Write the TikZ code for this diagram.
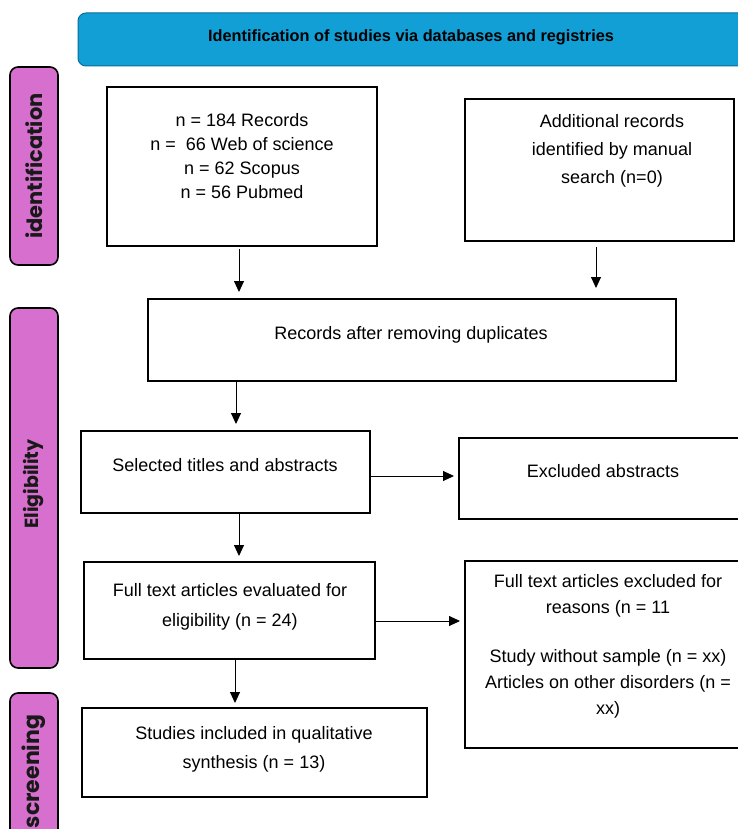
\documentclass[tikz,border=0pt]{standalone}
\usepackage{fontspec}
\setmainfont{Liberation Sans}
\newfontfamily\tabfont{Poppins}
\usetikzlibrary{arrows.meta}
\definecolor{hdrblue}{HTML}{129FD6}
\definecolor{hdredge}{HTML}{0B6E99}
\definecolor{tabpink}{HTML}{D76FCF}
\begin{document}
\begin{tikzpicture}[x=1pt,y=-1pt,
 box/.style={draw=black, line width=1.8pt, anchor=north west, inner sep=0pt, outer sep=0pt},
 tabbox/.style={draw=black, line width=1.6pt, fill=tabpink, rounded corners=8pt, anchor=north west, inner sep=0pt, outer sep=0pt, minimum width=48},
 txt/.style={anchor=north, inner sep=0pt, align=center, font=\fontsize{18}{24}\selectfont},
 tablabel/.style={rotate=90, font=\tabfont\bfseries\fontsize{19}{22}\selectfont, text=black!90, inner sep=0pt},
 arr/.style={-{Triangle[length=11pt,width=10pt]}, line width=0.9pt}]
\useasboundingbox (0,0) rectangle (738,829);
\fill[white] (0,0) rectangle (738,829);
% header
\node[draw=hdredge, fill=hdrblue, rounded corners=8pt, minimum width=700, minimum height=53, anchor=north west, line width=1pt, inner sep=0pt, outer sep=0pt] (hdr) at (78,13) {};
\node[anchor=base, inner sep=0pt, font=\bfseries\fontsize{16.3}{20}\selectfont] (hdrt) at (411,42) {Identification of studies via databases and registries};
% tabs
\node[tabbox, minimum height=198] (tid) at (10,67) {};
\node[tablabel, font=\tabfont\bfseries\fontsize{21}{24}\selectfont] (lid) at (tid.center) {identification};
\node[tabbox, minimum height=360] (tel) at (10,308) {};
\node[tablabel] (lel) at ([yshift=4pt]tel.center) {Eligibility};
\node[tabbox, minimum height=157] (tsc) at (10,693) {};
\node[tablabel, font=\tabfont\bfseries\fontsize{22}{25}\selectfont] (lsc) at (tsc.center) {screening};
% boxes
\node[box, minimum width=270, minimum height=159] (b1) at (107,87) {};
\node[box, minimum width=269, minimum height=142] (b2) at (465,99) {};
\node[box, minimum width=528, minimum height=82] (b3) at (148,299) {};
\node[box, minimum width=289, minimum height=82] (b4) at (81,431) {};
\node[box, minimum width=301, minimum height=81] (b5) at (459,438) {};
\node[box, minimum width=291, minimum height=97] (b6) at (84,562) {};
\node[box, minimum width=295, minimum height=187] (b7) at (465,561) {};
\node[box, minimum width=345, minimum height=89] (b8) at (82,708) {};
% texts
\node[txt] (t1) at (242,113) {n = 184 Records\\n =\ \ 66 Web of science\\n = 62 Scopus\\n = 56 Pubmed};
\node[txt, font=\fontsize{18}{28}\selectfont] (t2) at (612,114) {Additional records\\identified by manual\\search (n=0)};
\node[txt] (t3) at (411,326.5) {Records after removing duplicates};
\node[txt] (t4) at (225,458.5) {Selected titles and abstracts};
\node[txt] (t5) at (603,464) {Excluded abstracts};
\node[txt, font=\fontsize{18}{30}\selectfont] (t6) at (230,583.5) {Full text articles evaluated for\\eligibility (n = 24)};
\node[txt, font=\fontsize{18}{26}\selectfont] (t7) at (608,574) {Full text articles excluded for\\reasons (n = 11\\[23pt]Study without sample (n = xx)\\Articles on other disorders (n =\\xx)};
\node[txt, font=\fontsize{18}{29}\selectfont] (t8) at (254,726.5) {Studies included in qualitative\\synthesis (n = 13)};
% arrows
\coordinate (xa1) at (239,0);
\coordinate (xa2) at (596,0);
\coordinate (xa3) at (236,0);
\coordinate (ya4) at (0,476);
\coordinate (xa5) at (239,0);
\coordinate (ya6) at (0,621);
\coordinate (xa7) at (235,0);
\draw[arr, shorten <=3pt, shorten >=7pt] (b1.south -| xa1) -- (b3.north -| xa1);
\draw[arr, shorten <=6pt, shorten >=11pt] (b2.south -| xa2) -- (b3.north -| xa2);
\draw[arr, shorten >=7pt] (b3.south -| xa3) -- (b4.north -| xa3);
\draw[arr, shorten >=5pt] (b4.east |- ya4) -- (b5.west |- ya4);
\draw[arr, shorten >=6pt] (b4.south -| xa5) -- (b6.north -| xa5);
\draw[arr, shorten >=5pt] (b6.east |- ya6) -- (b7.west |- ya6);
\draw[arr, shorten >=5pt] (b6.south -| xa7) -- (b8.north -| xa7);
\end{tikzpicture}
\end{document}
